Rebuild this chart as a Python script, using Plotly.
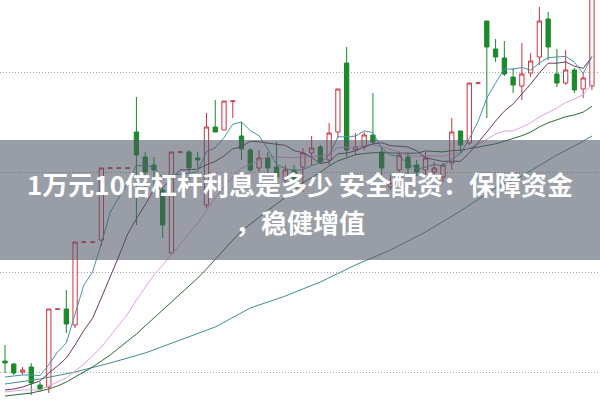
import plotly.graph_objects as go

# ---- data (price units) ----
idx = list(range(68))
opens = [11.1, 10.8, 10.0, 10.5, 8.7, 8.5, 16.28, 16.3, 14.7, 22.98, 22.98, 23.2, 30.38, 30.38, 30.38,
         34.0, 31.5, 30.7, 28.2, 21.9, 31.98, 32.0, 31.4, 26.7, 34.5, 34.2, 37.08, 33.6, 32.2, 30.4,
         31.4, 30.5, 29.2, 30.2, 30.5, 31.9, 32.5, 31.2, 34.0, 40.9, 32.2, 32.5, 33.7, 32.0, 28.5,
         30.2, 31.5, 30.7, 30.2, 30.0, 29.5, 30.9, 34.1, 32.9, 38.88, 45.1, 42.3, 41.4, 39.5, 38.6,
         39.9, 41.5, 45.3, 39.8, 38.9, 40.2, 38.3, 38.6]
highs = [12.7, 10.9, 10.5, 10.9, 9.0, 16.3, 16.3, 18.2, 23.0, 23.0, 23.0, 30.4, 30.4, 30.4, 30.4,
         37.5, 32.0, 31.5, 28.5, 32.0, 32.0, 32.2, 32.0, 35.9, 37.2, 37.1, 37.1, 35.0, 32.4, 32.2,
         32.0, 33.0, 30.7, 30.7, 32.4, 33.6, 32.7, 34.9, 38.3, 42.5, 33.9, 34.0, 37.9, 32.4, 29.7,
         32.0, 31.9, 31.2, 32.0, 31.0, 30.9, 35.4, 34.1, 38.9, 38.9, 45.1, 43.3, 43.1, 40.4, 42.9,
         41.9, 46.5, 46.0, 42.3, 42.2, 40.4, 39.9, 52.2]
lows = [9.9, 9.7, 9.7, 7.7, 8.0, 7.9, 16.28, 13.9, 14.4, 22.98, 22.98, 22.6, 30.38, 30.38, 30.38,
        24.7, 28.2, 28.2, 23.4, 21.9, 31.98, 29.2, 30.4, 26.4, 34.0, 34.2, 35.4, 31.2, 30.0, 30.0,
        29.7, 29.2, 28.7, 28.7, 28.0, 30.7, 30.8, 30.7, 33.4, 31.5, 31.7, 32.2, 32.7, 29.7, 28.2,
        30.0, 29.7, 29.6, 29.7, 29.4, 29.0, 30.2, 31.9, 32.7, 38.88, 35.4, 41.0, 39.6, 37.9, 37.2,
        39.5, 40.7, 41.2, 38.5, 38.7, 37.9, 37.4, 38.2]
closes = [10.9, 9.9, 10.2, 8.9, 8.3, 16.3, 16.3, 14.8, 23.0, 23.0, 23.0, 30.4, 30.4, 30.4, 30.4,
          31.7, 30.0, 30.2, 24.7, 32.0, 32.0, 30.4, 31.2, 34.5, 34.0, 37.1, 37.1, 32.3, 30.2, 31.4,
          30.4, 29.5, 30.2, 29.2, 31.9, 32.4, 31.0, 33.9, 38.3, 32.2, 32.5, 33.7, 33.0, 30.4, 28.9,
          31.7, 30.4, 30.0, 31.4, 30.4, 30.7, 34.0, 32.7, 38.9, 38.9, 42.5, 41.5, 39.8, 38.7, 39.8,
          41.1, 45.1, 42.5, 38.9, 40.2, 38.2, 39.4, 51.2]

ma5 = [9.5, 9.6, 9.7, 9.7, 9.64, 10.72, 12.0, 12.92, 15.74, 18.68, 20.02, 22.84, 25.96, 27.44, 28.92,
       30.66, 30.58, 30.54, 29.4, 29.72, 29.78, 29.86, 30.06, 32.02, 32.42, 33.44, 34.78, 35.0, 34.14,
       33.62, 32.28, 30.76, 30.34, 30.14, 30.24, 30.64, 30.94, 31.68, 33.5, 33.56, 33.58, 34.12, 33.94,
       32.36, 31.7, 31.54, 30.88, 30.28, 30.48, 30.78, 30.58, 31.3, 31.84, 33.34, 35.04, 37.4, 38.9,
       40.32, 40.28, 40.46, 40.18, 40.9, 41.44, 41.48, 41.56, 40.98, 39.84, 41.58]
ma10 = [8.2, 8.3, 8.5, 8.8, 9.1, 9.9, 10.6, 11.4, 12.7, 14.16, 15.37, 17.42, 19.44, 21.59, 23.8,
        25.34, 26.71, 28.25, 28.42, 29.32, 30.22, 30.22, 30.3, 30.71, 31.07, 31.61, 32.32, 32.53, 33.08,
        33.02, 32.86, 32.77, 32.67, 32.14, 31.93, 31.46, 30.85, 31.01, 31.82, 31.9, 32.11, 32.53, 32.81,
        32.93, 32.63, 32.56, 32.5, 32.11, 31.42, 31.24, 31.06, 31.09, 31.06, 31.91, 32.91, 33.99, 35.1,
        36.08, 36.81, 37.75, 38.79, 39.9, 40.88, 40.88, 41.01, 40.58, 40.37, 41.51]
ma20 = [8.0, 8.1, 8.2, 8.2, 8.2, 8.6, 9.0, 9.4, 10.1, 10.8, 11.6, 12.5, 13.6, 14.7, 15.8, 17.2, 18.4,
        19.7, 20.7, 21.74, 22.8, 23.82, 24.87, 26.15, 27.43, 28.47, 29.51, 30.39, 30.75, 31.17, 31.54,
        31.5, 31.48, 31.42, 31.5, 31.53, 31.58, 31.77, 32.45, 32.46, 32.48, 32.65, 32.74, 32.53, 32.28,
        32.01, 31.67, 31.56, 31.62, 31.57, 31.58, 31.81, 31.93, 32.42, 32.77, 33.27, 33.8, 34.09, 34.11,
        34.5, 34.92, 35.5, 35.97, 36.4, 36.96, 37.28, 37.73, 38.8]
ma30 = [7.6, 7.7, 7.8, 7.9, 8.1, 8.3, 8.6, 9.0, 9.5, 10.0, 10.5, 11.1, 11.7, 12.4, 13.1, 13.8, 14.6,
        15.4, 16.1, 16.9, 17.7, 18.5, 19.4, 20.3, 21.3, 22.2, 23.2, 24.1, 24.8, 25.5, 26.15, 26.8, 27.47,
        28.15, 28.93, 29.47, 29.96, 30.6, 31.11, 31.41, 31.73, 31.84, 31.93, 31.93, 31.88, 31.88, 31.89,
        31.88, 32.11, 32.05, 32.01, 32.13, 32.18, 32.33, 32.49, 32.67, 32.82, 33.07, 33.35, 33.63, 33.99,
        34.51, 34.92, 35.24, 35.52, 35.71, 35.99, 36.57]
ma60_idx = [0, 4, 8, 12, 16, 20, 24, 28, 32, 36, 40, 44, 48, 52, 56, 59, 61, 63, 65, 67]
ma60 = [8.8, 9.3, 10.0, 10.9, 11.9, 13.2, 14.5, 16.4, 17.6, 19.0, 20.7, 22.2, 24.0, 26.1, 28.4,
        29.6, 30.65, 31.7, 32.6, 33.6]

grid_vals = [10, 20, 30, 40]
title_line1 = "1万元10倍杠杆利息是多少 安全配资：保障资金"
title_line2 = "，稳健增值"

# ---- figure ----
fig = go.Figure()
fig.add_trace(go.Candlestick(
    x=idx, open=opens, high=highs, low=lows, close=closes,
    increasing=dict(line=dict(color="#cc3340", width=1), fillcolor="#ffffff"),
    decreasing=dict(line=dict(color="#1b8a2a", width=1), fillcolor="#1b8a2a"),
    whiskerwidth=0, hoverinfo="skip", showlegend=False,
))

line_specs = [
    (ma60_idx, ma60, "#3f8f8f"),
    (idx, ma30, "#2d6a35"),
    (idx, ma20, "#e7a0e3"),
    (idx, ma10, "#643c66"),
    (idx, ma5, "#4894a8"),
]
for xs, ys, col in line_specs:
    fig.add_trace(go.Scatter(x=xs, y=ys, mode="lines", line=dict(color=col, width=1),
                             hoverinfo="skip", showlegend=False))

fig.add_shape(type="rect", xref="paper", yref="paper", x0=0, x1=1, y0=0.35, y1=0.65,
              fillcolor="rgba(80,86,100,0.58)", line=dict(width=0), layer="above")

title_font = dict(family="Noto Sans CJK SC", size=26, color="white", weight=700)
fig.add_annotation(text=title_line1, xref="paper", yref="paper", x=0.5, y=0.5425,
                   xanchor="center", yanchor="middle", showarrow=False, font=title_font)
fig.add_annotation(text=title_line2, xref="paper", yref="paper", x=0.5, y=0.4475,
                   xanchor="center", yanchor="middle", showarrow=False, font=title_font)

fig.update_layout(
    width=600, height=400, margin=dict(l=0, r=0, t=0, b=0),
    paper_bgcolor="white", plot_bgcolor="white",
    xaxis=dict(range=[-0.571, 67.92], visible=False, rangeslider=dict(visible=False), fixedrange=True),
    yaxis=dict(range=[7.2, 47.2], tickvals=grid_vals, showticklabels=False, showgrid=True,
               gridcolor="#a8a8a8", griddash="1px,2px", gridwidth=1, zeroline=False,
               showline=False, fixedrange=True),
    boxgap=0.3,
)

fig.write_html("out.html", config={"displayModeBar": False},
               post_script="document.body.style.margin='0';document.body.style.overflow='hidden';")
